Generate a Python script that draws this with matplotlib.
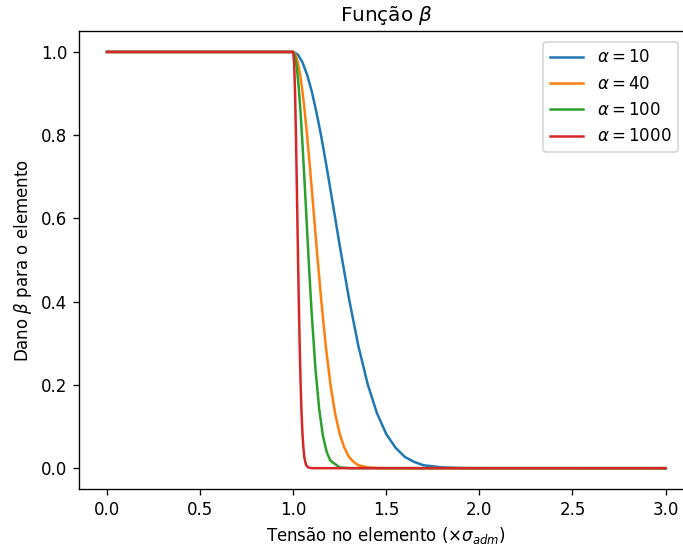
import matplotlib
matplotlib.use('Agg')
import matplotlib.pyplot as plt

# curves: damage beta vs stress (x sigma_adm)
x_a10 = [0.0, 1.0, 1.025, 1.05, 1.075, 1.1, 1.125, 1.15, 1.175, 1.2, 1.25,
         1.3, 1.35, 1.4, 1.45, 1.5, 1.55, 1.6, 1.65, 1.7, 1.8, 1.9, 2.0, 3.0]
y_a10 = [1.0, 1.0, 0.994, 0.975, 0.945, 0.905, 0.855, 0.799, 0.736, 0.670,
         0.535, 0.407, 0.294, 0.202, 0.132, 0.082, 0.049, 0.027, 0.015, 0.007,
         0.002, 0.0003, 0.0, 0.0]

x_a40 = [0.0, 1.0, 1.0125, 1.025, 1.0375, 1.05, 1.0625, 1.075, 1.0875, 1.1,
         1.125, 1.15, 1.175, 1.2, 1.225, 1.25, 1.275, 1.3, 1.325, 1.35, 1.4,
         1.45, 1.5, 3.0]
y_a40 = [1.0, 1.0, 0.994, 0.975, 0.945, 0.905, 0.855, 0.799, 0.736, 0.670,
         0.535, 0.407, 0.294, 0.202, 0.132, 0.082, 0.049, 0.027, 0.015, 0.007,
         0.002, 0.0003, 0.0, 0.0]

x_a100 = [0.0, 1.0, 1.01, 1.02, 1.03, 1.04, 1.05, 1.06, 1.07, 1.08, 1.09,
          1.1, 1.12, 1.14, 1.16, 1.18, 1.2, 1.25, 1.3, 3.0]
y_a100 = [1.0, 1.0, 0.990, 0.961, 0.914, 0.852, 0.779, 0.698, 0.613, 0.527,
          0.445, 0.368, 0.237, 0.141, 0.077, 0.039, 0.018, 0.002, 0.0001, 0.0]

x_a1000 = [0.0, 1.0, 1.005, 1.01, 1.015, 1.02, 1.025, 1.03, 1.035, 1.04,
           1.045, 1.05, 1.055, 1.06, 1.065, 1.07, 1.08, 1.1, 3.0]
y_a1000 = [1.0, 1.0, 0.975, 0.905, 0.799, 0.670, 0.535, 0.407, 0.294, 0.202,
           0.132, 0.082, 0.049, 0.027, 0.015, 0.007, 0.002, 0.0, 0.0]

alphas = [10, 40, 100, 1000]
curves = [(x_a10, y_a10), (x_a40, y_a40), (x_a100, y_a100), (x_a1000, y_a1000)]

dpi = 120
fig = plt.figure(figsize=(683. / dpi, 549. / dpi), dpi=dpi)
ax = fig.add_axes([0.1157, 0.1093, 0.8997, 0.834])

for a, (xs, ys) in zip(alphas, curves):
    ax.plot(xs, ys, label=r'$\alpha = {}$'.format(a))

ax.set_title(r'Função $\beta$')
ax.set_xlabel(r'Tensão no elemento ($\times\sigma_{adm}$)')
ax.set_ylabel(r'Dano $\beta$ para o elemento')
ax.legend(loc='upper right', bbox_to_anchor=(678 / 683., 1 - 41.7 / 549.),
          bbox_transform=fig.transFigure, borderaxespad=0)

fig.savefig('out.png', dpi=dpi)
plt.close()
